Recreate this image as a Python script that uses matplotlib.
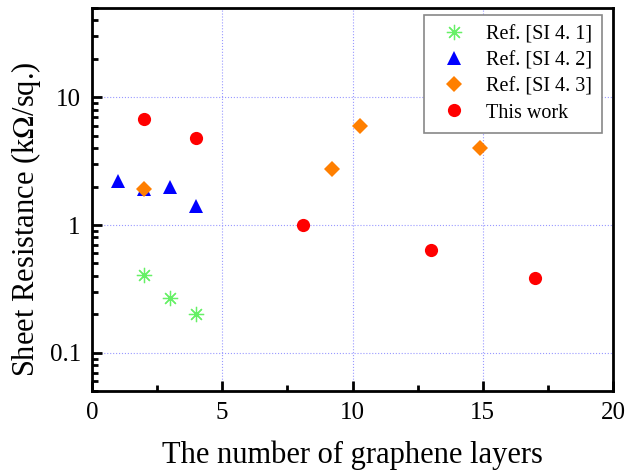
import matplotlib
matplotlib.use("Agg")
from matplotlib import pyplot as plt
from matplotlib.ticker import LogLocator, NullFormatter, FixedLocator, FixedFormatter, MultipleLocator

plt.rcParams['font.family'] = ['Liberation Serif', 'DejaVu Serif']
plt.rcParams['mathtext.fontset'] = 'stix'

# data
ref1_x = [2, 3, 4]
ref1_y = [0.405, 0.27, 0.20]

ref2_x = [1, 2, 3, 4]
ref2_y = [2.2, 1.9, 2.0, 1.42]

ref3_x = [2, 9.2, 10.3, 14.9]
ref3_y = [1.93, 2.77, 5.95, 3.98]

work_x = [2, 4, 8.1, 13, 17]
work_y = [6.75, 4.78, 1.0, 0.635, 0.383]

labels = ['Ref. [SI 4. 1]', 'Ref. [SI 4. 2]', 'Ref. [SI 4. 3]', 'This work']
ytick_vals = [0.1, 1, 10]
ytick_text = ['0.1', '1', '10']

fig = plt.figure(figsize=(6.25, 4.73), dpi=100)
ax = fig.add_axes([0.147, 0.173, 0.834, 0.810])

ax.plot(ref1_x, ref1_y, linestyle='', marker=(8, 2, 0), markersize=11,
        markeredgewidth=0.9, color='#66f066', label=labels[0], zorder=3)
ax.plot(ref2_x, ref2_y, linestyle='', marker='^', markersize=10.5,
        color='#0000ff', markeredgewidth=0, label=labels[1], zorder=3)
ax.plot(ref3_x, ref3_y, linestyle='', marker='D', markersize=8.5,
        color='#ff7f00', markeredgewidth=0, label=labels[2], zorder=4)
ax.plot(work_x, work_y, linestyle='', marker='o', markersize=9.5,
        color='#ff0000', markeredgewidth=0, label=labels[3], zorder=4)

ax.set_yscale('log')
ax.set_xlim(0, 20)
ax.set_ylim(0.05, 50)

ax.xaxis.set_major_locator(MultipleLocator(5))
ax.xaxis.set_minor_locator(MultipleLocator(2.5))
ax.yaxis.set_major_locator(FixedLocator(ytick_vals))
ax.yaxis.set_major_formatter(FixedFormatter(ytick_text))
ax.yaxis.set_minor_locator(LogLocator(base=10, subs=range(2, 10)))
ax.yaxis.set_minor_formatter(NullFormatter())

ax.tick_params(which='both', direction='in', labelsize=18, width=2,
               top=False, right=False, pad=8)
ax.tick_params(which='major', length=7)
ax.tick_params(which='minor', length=4)

for s in ax.spines.values():
    s.set_linewidth(2)

ax.grid(True, which='major', linestyle=':', color='#9999ff', linewidth=0.8)

ax.set_xlabel('The number of graphene layers', fontsize=22, labelpad=12)
ax.set_ylabel('Sheet Resistance (k$\\Omega$/sq.)', fontsize=22)
ax.yaxis.set_label_coords(-0.094, 0.45)

leg = ax.legend(loc='upper right', fontsize=14.5, frameon=True, fancybox=False,
                edgecolor='#888888', framealpha=1, borderpad=0.5,
                handletextpad=0.6, labelspacing=0.35, handlelength=2.0,
                borderaxespad=0, bbox_to_anchor=(0.979, 0.982))
leg.get_frame().set_linewidth(1.2)

fig.savefig('out.png', dpi=100)
